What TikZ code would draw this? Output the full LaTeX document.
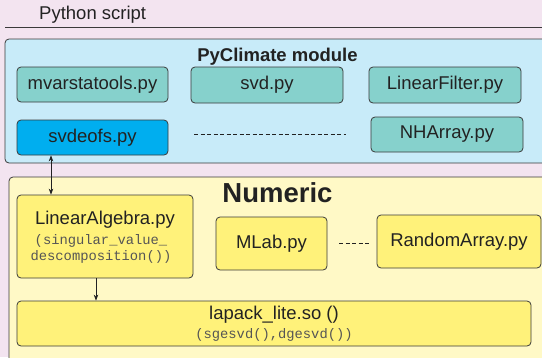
\documentclass[tikz,border=0pt]{standalone}
\usepackage{fontspec}
\setmainfont{Liberation Sans}
\newfontfamily\monof{Liberation Mono}
\usetikzlibrary{arrows.meta}
\definecolor{bgc}{HTML}{F3E4F0}
\definecolor{pyc}{HTML}{C8EBF9}
\definecolor{tealc}{HTML}{86D1CC}
\definecolor{bluec}{HTML}{00AEEF}
\definecolor{numc}{HTML}{FFF9C6}
\definecolor{yelc}{HTML}{FFF27A}
\definecolor{edgec}{HTML}{3A3A3A}
\definecolor{txtc}{HTML}{222222}
\definecolor{monoc}{HTML}{555555}
\tikzset{
  region/.style={draw=edgec, line width=0.8pt, rounded corners=4pt},
  modbox/.style={draw=edgec, line width=0.8pt, rounded corners=4pt, inner sep=0pt,
    font=\fontsize{18.5}{21}\selectfont, text=txtc},
  tealbox/.style={modbox, fill=tealc},
  bluebox/.style={modbox, fill=bluec},
  yelbox/.style={modbox, fill=yelc},
  txt/.style={inner sep=0pt, font=\fontsize{18.5}{21}\selectfont, text=txtc},
  monotxt/.style={inner sep=0pt, font=\monof\fontsize{13.8}{16}\selectfont, text=monoc},
  title/.style={inner sep=0pt, font=\bfseries\fontsize{18.5}{21}\selectfont, text=txtc},
  bigtitle/.style={inner sep=0pt, font=\bfseries\fontsize{27.5}{30}\selectfont, text=txtc},
  conn/.style={draw=txtc, line width=0.7pt},
  arr/.style={-{Stealth[length=6pt,width=4.5pt]}},
  dotline/.style={draw=txtc, line width=1pt, dash pattern=on 4.3pt off 2.2pt},
}
\begin{document}
\begin{tikzpicture}[x=1pt,y=-1pt]
\useasboundingbox (0,0) rectangle (542,357);
\fill[bgc] (0,0) rectangle (542,357);
% Python script header
\node[txt, anchor=west] (pyscript) at (39,15) {Python script};
\coordinate (hl1) at (5,27);
\coordinate (hl2) at (542,27);
\draw[edgec, line width=0.8pt] (hl1) -- (hl2);
% PyClimate region
\draw[region, fill=pyc] (5,39) rectangle (570,163);
\node[title] (pyclim) at (277.5,57) {PyClimate module};
\node[tealbox, minimum width=151pt, minimum height=35pt] (mvar) at (92.5,84.5) {mvarstatools.py};
\node[tealbox, minimum width=152pt, minimum height=36pt] (svd) at (267,85) {svd.py};
\node[tealbox, minimum width=152pt, minimum height=36pt] (linf) at (445,85) {LinearFilter.py};
\node[bluebox, minimum width=151pt, minimum height=35pt] (svdeofs) at (92.5,137.5) {svdeofs.py};
\node[tealbox, minimum width=152pt, minimum height=35pt] (nharr) at (447,134.5) {NHArray.py};
\coordinate (d1a) at (194,134);
\coordinate (d1b) at (346,134);
\draw[dotline] (d1a) -- (d1b);
% Numeric region
\draw[region, fill=numc] (9,177) rectangle (570,380);
\node[bigtitle] (numeric) at (277.5,193) {Numeric};
\node[yelbox, minimum width=176pt, minimum height=83pt] (linalg) at (105,236.5) {};
\node[txt] (linalgt) at (105,219.5) {LinearAlgebra.py};
\node[monotxt] (linalgm1) at (101,241) {(singular\_value\_};
\node[monotxt] (linalgm2) at (101,257) {descomposition())};
\node[yelbox, minimum width=111pt, minimum height=53pt] (mlab) at (271.5,243.5) {MLab.py};
\node[yelbox, minimum width=164pt, minimum height=53pt] (rarr) at (459,241.5) {RandomArray.py};
\coordinate (d2a) at (339,243);
\coordinate (d2b) at (370,243);
\draw[dotline] (d2a) -- (d2b);
\node[yelbox, minimum width=514pt, minimum height=45pt] (lapack) at (274,323.5) {};
\node[txt] (lapackt) at (274,315) {lapack\_lite.so ()};
\node[monotxt] (lapackm) at (274,335) {(sgesvd(),dgesvd())};
% connectors
\coordinate (ax1) at (51,0);
\coordinate (ax2) at (96,0);
\draw[conn, {Stealth[length=6pt,width=4.5pt]}-{Stealth[length=6pt,width=4.5pt]}] (svdeofs.south -| ax1) -- (linalg.north -| ax1);
\draw[conn, arr] (linalg.south -| ax2) -- (lapack.north -| ax2);
\end{tikzpicture}
\end{document}
